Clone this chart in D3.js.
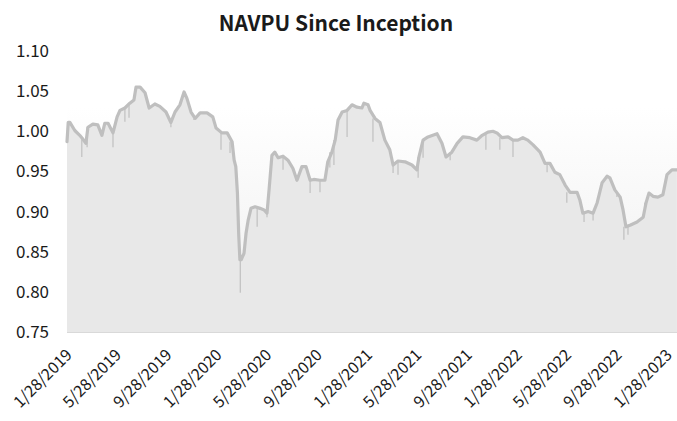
<!DOCTYPE html>
<html>
<head>
<meta charset="utf-8">
<script src="https://cdn.jsdelivr.net/npm/d3@7"></script>
<style>
  body { margin: 0; background: #fff; }
  text { font-family: "Noto Sans CJK KR", "Noto Sans", sans-serif; fill: #1a1a1a; }
</style>
</head>
<body>
<svg id="chart" width="677" height="421"></svg>
<script>
// ------- Data ------
const navDates = [
  "2019-01-28","2019-01-31","2019-02-04","2019-02-16","2019-02-28","2019-03-08","2019-03-15","2019-03-20",
  "2019-04-01","2019-04-13","2019-04-23","2019-04-30","2019-05-08","2019-05-20","2019-05-30","2019-06-06",
  "2019-06-18","2019-06-30","2019-07-10","2019-07-15","2019-07-25","2019-08-06","2019-08-16","2019-08-30",
  "2019-09-11","2019-09-26","2019-10-08","2019-10-18","2019-10-30","2019-11-09","2019-11-16","2019-11-26",
  "2019-12-06","2019-12-18","2020-01-04","2020-01-18","2020-01-26","2020-02-09","2020-02-22","2020-03-05",
  "2020-03-10","2020-03-14","2020-03-18","2020-03-21","2020-03-24","2020-03-27","2020-04-03","2020-04-08",
  "2020-04-13","2020-04-20","2020-04-30","2020-05-12","2020-05-22","2020-05-29","2020-06-03","2020-06-10",
  "2020-06-17","2020-06-25","2020-07-07","2020-07-19","2020-07-31","2020-08-10","2020-08-22","2020-09-01",
  "2020-09-11","2020-09-20","2020-10-05","2020-10-17","2020-10-24","2020-11-03","2020-11-11","2020-11-18",
  "2020-11-28","2020-12-10","2020-12-22","2021-01-03","2021-01-15","2021-01-20","2021-01-30","2021-02-04",
  "2021-02-16","2021-02-28","2021-03-12","2021-03-24","2021-04-01","2021-04-13","2021-04-30","2021-05-17",
  "2021-05-29","2021-06-03","2021-06-13","2021-06-25","2021-07-17","2021-07-29","2021-08-08","2021-08-22",
  "2021-09-04","2021-09-18","2021-10-05","2021-10-22","2021-11-04","2021-11-18","2021-11-30","2021-12-10",
  "2021-12-22","2022-01-06","2022-01-18","2022-01-30","2022-02-11","2022-02-23","2022-03-08","2022-03-25",
  "2022-04-06","2022-04-18","2022-04-30","2022-05-12","2022-05-25","2022-06-06","2022-06-23","2022-06-30",
  "2022-07-07","2022-07-20","2022-08-01","2022-08-11","2022-08-23","2022-09-04","2022-09-11","2022-09-23",
  "2022-10-06","2022-10-13","2022-10-20","2022-10-30","2022-11-16","2022-12-01","2022-12-08","2022-12-15",
  "2022-12-25","2023-01-06","2023-01-18","2023-01-28","2023-02-09","2023-02-21"
];
const navValues = [
  0.987,1.011,1.011,1.001,0.995,0.990,0.985,1.005,
  1.009,1.008,0.995,1.010,1.010,0.998,1.018,1.026,
  1.029,1.035,1.039,1.055,1.055,1.048,1.029,1.034,
  1.031,1.024,1.011,1.024,1.033,1.049,1.041,1.024,
  1.016,1.023,1.023,1.018,1.004,0.998,0.998,0.987,
  0.964,0.956,0.923,0.873,0.840,0.840,0.848,0.873,
  0.889,0.904,0.906,0.904,0.902,0.898,0.927,0.970,
  0.974,0.967,0.969,0.964,0.954,0.939,0.956,0.956,
  0.939,0.940,0.939,0.939,0.962,0.974,0.989,1.014,
  1.024,1.026,1.033,1.030,1.029,1.035,1.033,1.026,
  1.016,1.011,0.989,0.977,0.958,0.963,0.962,0.958,
  0.952,0.968,0.989,0.993,0.997,0.985,0.968,0.974,
  0.985,0.993,0.992,0.989,0.995,0.999,1.000,0.998,
  0.992,0.993,0.989,0.989,0.992,0.989,0.983,0.974,
  0.960,0.960,0.949,0.946,0.933,0.924,0.924,0.914,
  0.898,0.900,0.898,0.911,0.936,0.944,0.942,0.927,
  0.918,0.902,0.881,0.883,0.887,0.893,0.911,0.923,
  0.919,0.918,0.921,0.946,0.952,0.952
];
// one-day drops drawn as thin spikes
const spikeDates = [
  "2019-03-05","2019-03-18","2019-05-20","2019-06-18","2019-06-28","2019-10-08","2019-12-03","2020-02-07",
  "2020-02-29","2020-03-25","2020-05-05","2020-05-29","2020-07-07","2020-08-08","2020-09-11","2020-10-05",
  "2020-10-29","2020-11-08","2020-12-10","2021-02-11","2021-04-01","2021-04-13","2021-06-01","2021-06-13",
  "2021-08-18","2021-11-13","2021-12-17","2022-01-18","2022-04-11","2022-05-29","2022-07-10","2022-08-01",
  "2022-09-28","2022-10-15","2022-10-25","2022-12-05","2023-01-04"
];
const spikeLows = [
  0.968,0.980,0.980,1.012,1.017,1.005,1.014,0.977,
  0.973,0.799,0.881,0.893,0.952,0.943,0.923,0.924,
  0.955,0.958,0.993,0.987,0.948,0.946,0.942,0.967,
  0.964,0.977,0.977,0.968,0.949,0.911,0.887,0.889,
  0.923,0.865,0.871,0.906,0.917
];
const xTickLabels = ["1/28/2019","5/28/2019","9/28/2019","1/28/2020","5/28/2020","9/28/2020","1/28/2021",
  "5/28/2021","9/28/2021","1/28/2022","5/28/2022","9/28/2022","1/28/2023"];
const yTicks = [0.75, 0.80, 0.85, 0.90, 0.95, 1.00, 1.05, 1.10];

const svg = d3.select("#chart");
const width = +svg.attr("width");
const height = +svg.attr("height");
const margin = { top: 51, right: 0, bottom: 89, left: 67 };

const parseIso = d3.timeParse("%Y-%m-%d");
const parseLabel = d3.timeParse("%m/%d/%Y");

const data = navDates.map((d, i) => ({ date: parseIso(d), value: navValues[i] }));
const spikes = spikeDates.map((d, i) => ({ date: parseIso(d), low: spikeLows[i] }));
const tickDates = xTickLabels.map(parseLabel);

const x = d3.scaleTime()
  .domain([tickDates[0], tickDates[tickDates.length - 1]])
  .range([margin.left, 667]);
const y = d3.scaleLinear()
  .domain([0.75, 1.10])
  .range([height - margin.bottom, margin.top]);

// plot-area gradient
const defs = svg.append("defs");
const grad = defs.append("linearGradient")
  .attr("id", "plotBg").attr("x1", 0).attr("y1", 0).attr("x2", 0).attr("y2", 1);
grad.append("stop").attr("offset", "0%").attr("stop-color", "#ffffff");
grad.append("stop").attr("offset", "20%").attr("stop-color", "#ffffff");
grad.append("stop").attr("offset", "100%").attr("stop-color", "#eeeeee");

svg.append("rect")
  .attr("x", margin.left)
  .attr("y", margin.top)
  .attr("width", width - margin.left - margin.right)
  .attr("height", y(0.75) - margin.top)
  .attr("fill", "url(#plotBg)");

// title
svg.append("text")
  .attr("x", 336)
  .attr("y", 31)
  .attr("text-anchor", "middle")
  .attr("font-size", "21px")
  .attr("font-weight", "bold")
  .text("NAVPU Since Inception");

// area + line
const area = d3.area()
  .x(d => x(d.date))
  .y0(y(0.75))
  .y1(d => y(d.value));
svg.append("path")
  .datum(data)
  .attr("d", area)
  .attr("fill", "#e8e8e8");

// spikes
const bisect = d3.bisector(d => d.date).left;
svg.append("g")
  .selectAll("line")
  .data(spikes)
  .join("line")
  .attr("x1", d => x(d.date))
  .attr("x2", d => x(d.date))
  .attr("y1", d => {
    const i = Math.min(bisect(data, d.date), data.length - 1);
    return y(data[i].value);
  })
  .attr("y2", d => y(d.low))
  .attr("stroke", "#c3c3c3")
  .attr("stroke-width", 1.3);

const line = d3.line()
  .x(d => x(d.date))
  .y(d => y(d.value));
svg.append("path")
  .datum(data)
  .attr("d", line)
  .attr("fill", "none")
  .attr("stroke", "#bfbfbf")
  .attr("stroke-width", 3.2)
  .attr("stroke-linejoin", "round")
  .attr("stroke-linecap", "round");

// baseline
svg.append("line")
  .attr("x1", margin.left).attr("x2", width)
  .attr("y1", y(0.75) + 0.5).attr("y2", y(0.75) + 0.5)
  .attr("stroke", "#d9d9d9")
  .attr("stroke-width", 1);

// y axis labels
svg.append("g")
  .selectAll("text")
  .data(yTicks)
  .join("text")
  .attr("x", 49)
  .attr("y", d => y(d))
  .attr("dy", "0.35em")
  .attr("text-anchor", "end")
  .attr("font-size", "17px")
  .text(d => d3.format(".2f")(d));

// x axis labels, rotated
svg.append("g")
  .selectAll("text")
  .data(tickDates)
  .join("text")
  .attr("text-anchor", "end")
  .attr("font-size", "16px")
  .attr("transform", d => `translate(${x(d) + 6},${356}) rotate(-45)`)
  .text((d, i) => xTickLabels[i]);
</script>
</body>
</html>
